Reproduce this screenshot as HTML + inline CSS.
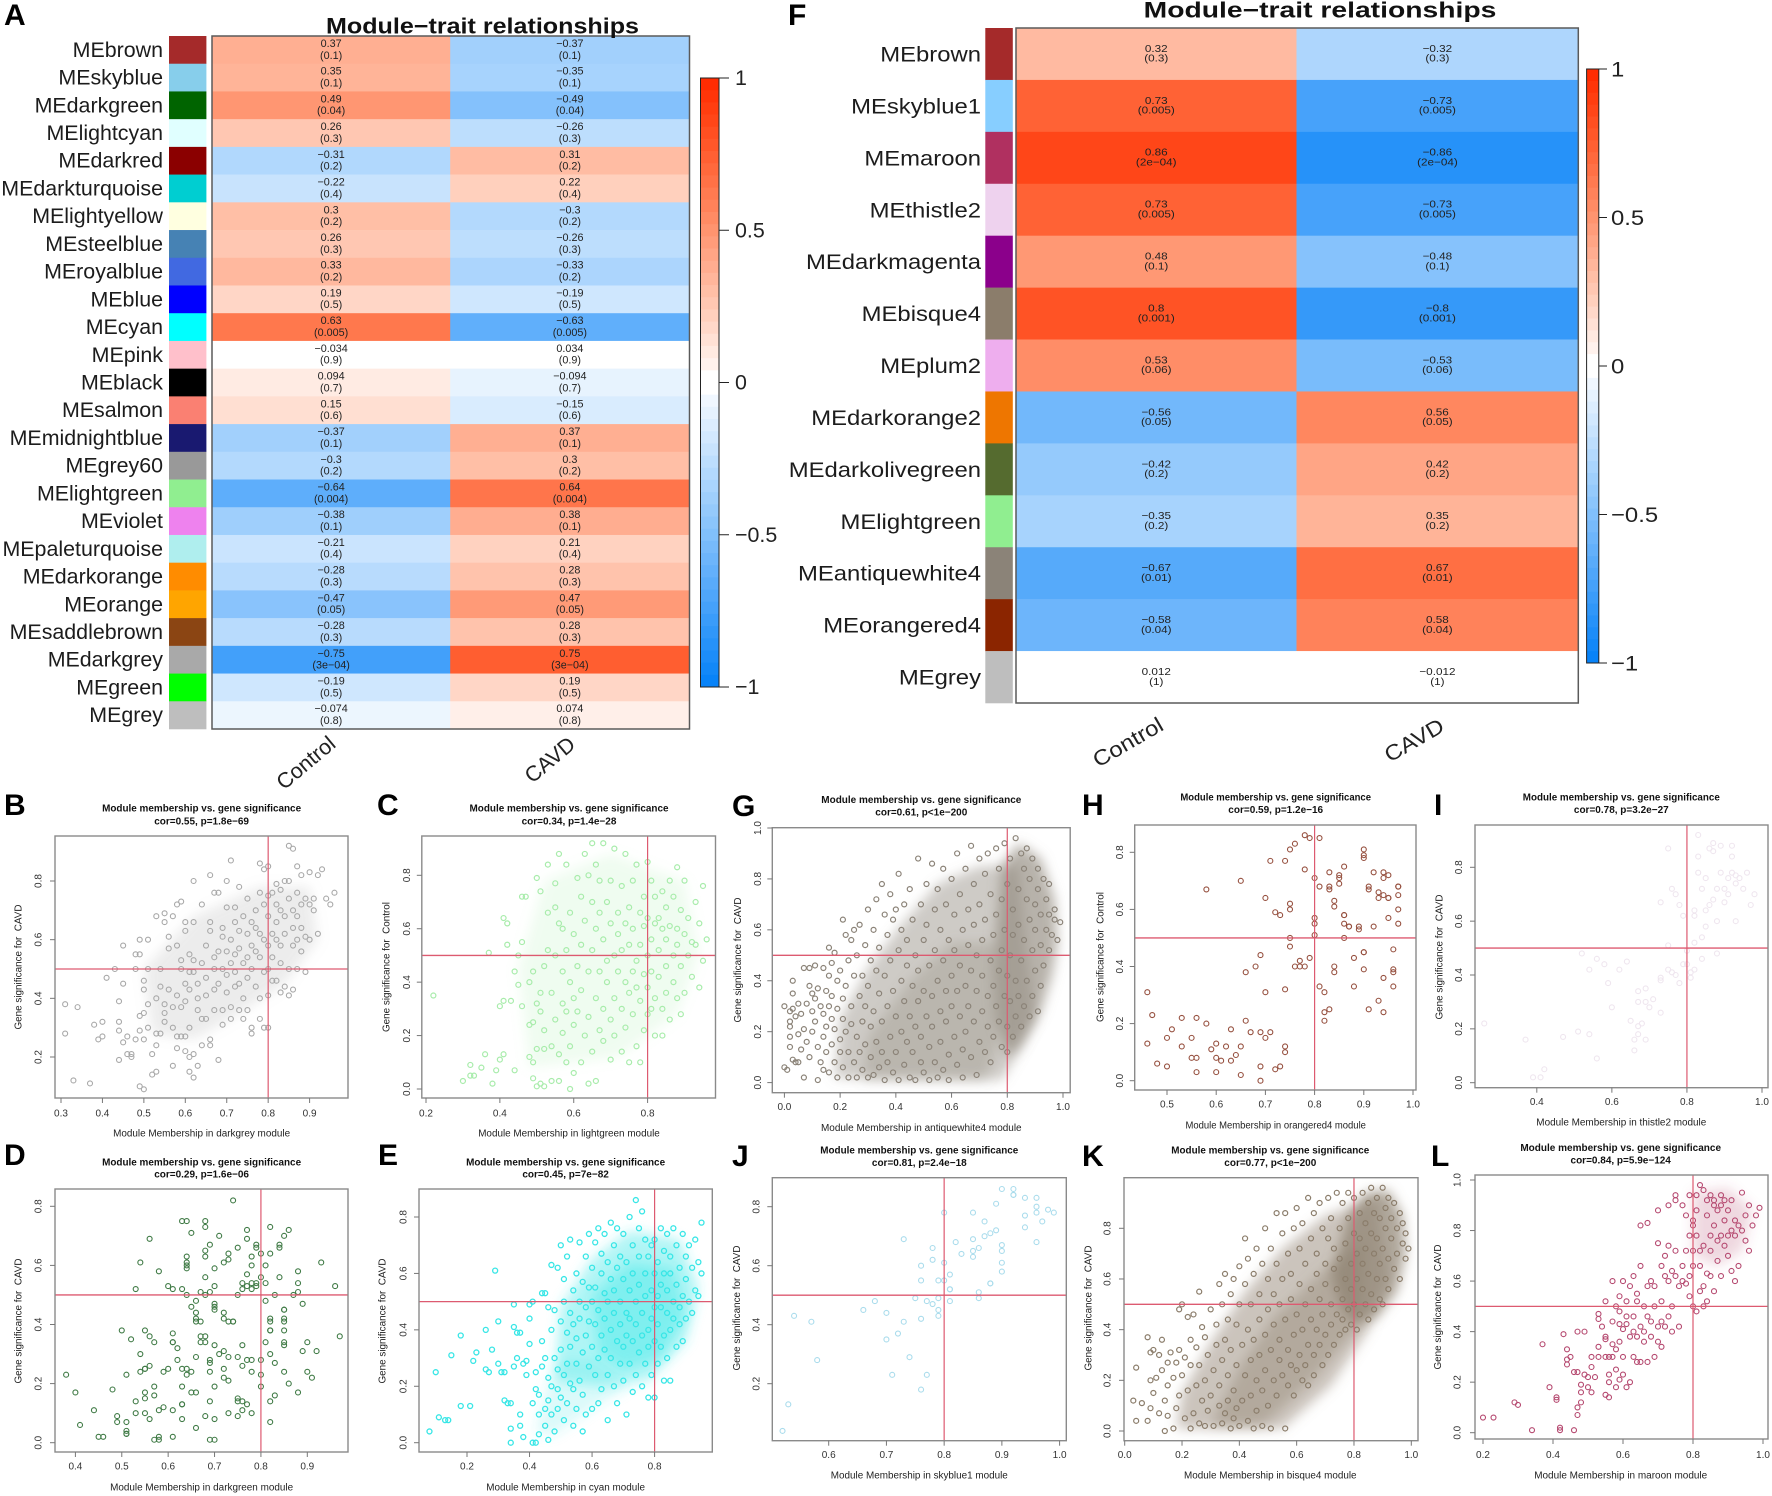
<!DOCTYPE html>
<html lang="en">
<head>
<meta charset="utf-8">
<title>Module-trait relationships and module membership scatter plots</title>
<style>
html,body{margin:0;padding:0;background:#fff;width:1772px;height:1496px;overflow:hidden}
svg{display:block}
text{font-family:"Liberation Sans",Arial,sans-serif;white-space:pre}
</style>
</head>
<body>
<svg id="figure" xmlns="http://www.w3.org/2000/svg" width="1772" height="1496" viewBox="0 0 1772 1496">
<defs><filter id="soft" x="-20%" y="-20%" width="140%" height="140%"><feGaussianBlur stdDeviation="6"/></filter></defs>
<rect x="0" y="0" width="1772" height="1496" fill="#ffffff"/>
</svg>
<script>
/* ---------- heatmap A data ---------- */
const modulesA=["MEbrown","MEskyblue","MEdarkgreen","MElightcyan","MEdarkred","MEdarkturquoise","MElightyellow","MEsteelblue","MEroyalblue","MEblue","MEcyan","MEpink","MEblack","MEsalmon","MEmidnightblue","MEgrey60","MElightgreen","MEviolet","MEpaleturquoise","MEdarkorange","MEorange","MEsaddlebrown","MEdarkgrey","MEgreen","MEgrey"];
const swatchesA=["#a52a2a","#87ceeb","#006400","#e0ffff","#8b0000","#00ced1","#ffffe0","#4682b4","#4169e1","#0000ff","#00ffff","#ffc0cb","#000000","#fa8072","#191970","#999999","#90ee90","#ee82ee","#afeeee","#ff8c00","#ffa500","#8b4513","#a9a9a9","#00ff00","#bebebe"];
const controlCorA=[0.37,0.35,0.49,0.26,-0.31,-0.22,0.3,0.26,0.33,0.19,0.63,-0.034,0.094,0.15,-0.37,-0.3,-0.64,-0.38,-0.21,-0.28,-0.47,-0.28,-0.75,-0.19,-0.074];
const cavdCorA=[-0.37,-0.35,-0.49,-0.26,0.31,0.22,-0.3,-0.26,-0.33,-0.19,-0.63,0.034,-0.094,-0.15,0.37,0.3,0.64,0.38,0.21,0.28,0.47,0.28,0.75,0.19,0.074];
const pValuesA=["0.1","0.1","0.04","0.3","0.2","0.4","0.2","0.3","0.2","0.5","0.005","0.9","0.7","0.6","0.1","0.2","0.004","0.1","0.4","0.3","0.05","0.3","3e−04","0.5","0.8"];
/* ---------- heatmap F data ---------- */
const modulesF=["MEbrown","MEskyblue1","MEmaroon","MEthistle2","MEdarkmagenta","MEbisque4","MEplum2","MEdarkorange2","MEdarkolivegreen","MElightgreen","MEantiquewhite4","MEorangered4","MEgrey"];
const swatchesF=["#a52a2a","#87ceff","#b03060","#eed2ee","#8b008b","#8b7d6b","#eeaeee","#ee7600","#556b2f","#90ee90","#8b8378","#8b2500","#bebebe"];
const controlCorF=[0.32,0.73,0.86,0.73,0.48,0.8,0.53,-0.56,-0.42,-0.35,-0.67,-0.58,0.012];
const cavdCorF=[-0.32,-0.73,-0.86,-0.73,-0.48,-0.8,-0.53,0.56,0.42,0.35,0.67,0.58,-0.012];
const pValuesF=["0.3","0.005","2e−04","0.005","0.1","0.001","0.06","0.05","0.2","0.2","0.01","0.04","1"];
const traitNames=["Control","CAVD"];
const colorbarTicks=[1,0.5,0,-0.5,-1];
/* ---------- scatter data: flat x,y pairs in hundredths ---------- */
const darkgreyPoints=[31,38,34,37,31,28,33,12,37,11,38,31,39,26,40,27,40,32,41,47,43,50,44,39,44,32,44,29,44,19,45,25,45,45,45,58,46,27,46,21,47,20,47,21,48,26,48,50,48,55,49,60,49,55,49,10,50,9,49,29,49,34,50,26,50,35,50,46,50,43,51,30,51,38,51,50,51,60,52,21,52,14,53,68,53,15,53,40,53,28,53,24,54,28,54,44,54,50,55,32,55,66,55,69,55,35,55,38,56,61,56,57,56,43,57,17,57,37,57,30,57,68,58,58,58,41,58,27,58,23,58,72,59,73,59,50,59,37,59,27,59,53,60,39,60,45,60,66,60,63,60,27,60,22,61,15,61,20,61,43,61,49,61,55,61,30,62,80,62,66,62,53,62,49,62,21,62,13,63,17,63,36,63,40,63,45,64,24,64,33,64,52,64,72,65,58,65,47,65,41,65,33,66,63,66,66,66,26,66,24,66,82,67,76,67,54,67,43,67,50,67,36,68,76,68,19,68,56,68,45,69,64,69,61,69,50,69,36,69,31,70,71,70,80,70,56,70,48,70,42,71,87,71,60,71,52,71,37,71,33,72,66,72,71,72,55,72,49,72,44,73,78,73,63,73,57,73,45,73,36,74,68,74,52,74,40,74,33,75,74,75,62,75,54,75,47,75,36,76,66,76,58,76,50,76,30,76,28,77,70,77,64,77,56,77,44,78,86,78,76,78,62,78,54,78,40,78,33,79,72,79,84,79,60,79,49,79,30,80,85,80,75,80,68,80,58,80,50,80,41,80,30,81,76,81,62,81,54,81,46,82,72,82,79,82,66,82,60,82,46,83,70,83,77,83,58,83,52,83,42,84,80,84,68,84,62,84,44,85,92,85,80,85,74,85,50,85,41,86,91,86,70,86,64,86,58,86,43,87,85,87,76,87,68,87,60,87,50,88,82,88,72,88,64,88,56,89,74,89,61,89,49,90,83,90,72,90,60,91,74,91,70,92,62,92,82,93,84,94,74,95,72,96,76];
const lightgreenPoints=[22,35,30,3,32,5,32,9,33,5,35,8,36,13,37,51,38,2,39,7,40,11,40,31,41,13,41,33,41,64,42,62,42,54,43,33,44,44,44,7,45,39,45,50,46,31,46,55,46,72,47,72,48,24,48,40,48,12,49,4,49,10,49,25,49,44,50,32,50,79,50,15,50,1,51,36,51,74,51,2,51,29,52,1,52,46,52,22,52,15,53,66,53,84,53,52,54,16,54,3,54,36,55,68,55,50,55,77,55,26,56,88,56,62,56,13,56,3,57,44,57,60,57,21,57,32,58,84,58,29,58,10,58,52,59,0,59,66,59,40,59,16,60,34,60,58,60,24,60,6,61,79,61,46,61,29,62,10,62,72,62,54,62,37,63,20,63,63,63,88,64,2,64,44,64,27,64,80,65,92,65,70,65,52,65,14,66,84,66,34,66,60,66,3,67,78,67,22,67,44,67,66,68,56,68,30,68,92,68,18,69,70,69,40,69,48,70,62,70,26,70,78,70,11,71,90,71,50,71,34,71,20,72,58,72,44,72,66,73,30,73,76,73,14,73,52,74,88,74,40,74,62,74,23,75,68,75,36,75,54,75,10,76,44,76,78,76,28,76,60,77,16,77,84,77,48,77,38,78,66,78,33,78,54,78,10,79,43,79,72,79,22,79,61,80,64,80,50,80,38,80,85,80,28,81,56,81,44,81,30,81,78,82,62,82,34,82,72,82,20,83,52,83,42,83,64,84,74,84,60,84,30,84,20,85,68,85,46,85,36,85,56,86,78,86,26,86,61,87,50,87,72,87,40,88,83,88,60,88,54,88,34,89,46,89,67,89,28,90,78,90,58,90,36,91,50,91,64,92,55,92,42,93,70,93,54,94,38,94,62,95,76,95,48,96,56];
const darkgreenPoints=[38,23,40,17,44,11,41,6,45,2,46,2,49,9,49,7,51,7,51,4,51,3,51,3,48,18,51,23,50,38,53,52,54,61,56,69,58,58,63,75,64,75,65,71,68,75,68,73,74,82,71,70,69,67,77,72,77,69,75,66,79,67,79,66,82,73,86,72,85,70,84,67,84,66,80,64,82,64,93,61,96,53,97,36,90,34,92,31,89,31,90,24,91,22,86,20,88,17,83,16,82,14,82,7,60,53,61,52,63,52,64,50,65,46,66,48,66,44,67,51,68,50,69,51,70,53,70,47,70,46,70,45,70,59,68,56,68,63,68,65,64,63,64,61,64,60,64,59,72,61,72,44,72,42,73,64,73,62,73,41,74,41,75,50,76,52,76,54,77,53,77,57,78,63,78,60,78,52,79,53,79,54,78,54,80,56,81,54,81,48,81,60,83,50,84,56,87,50,88,58,88,54,88,51,89,47,85,45,85,45,85,41,85,42,82,42,82,41,82,38,82,38,85,38,52,35,55,38,54,30,56,36,57,34,56,26,57,19,58,11,59,24,60,25,61,37,61,34,61,34,62,32,62,28,63,25,63,19,63,13,64,25,64,23,65,24,65,17,66,17,66,29,67,36,67,34,68,34,68,36,66,42,66,41,67,41,69,24,69,28,69,27,70,33,70,19,69,14,71,30,72,31,72,25,72,22,73,21,73,29,74,41,75,29,75,14,76,26,76,33,77,28,78,28,78,24,80,28,80,19,80,23,81,34,82,30,83,27,85,33,85,34,85,24,53,14,53,10,55,10,56,8,57,1,58,2,58,1,59,12,61,11,61,2,63,8,63,13,66,5,68,9,69,1,70,1,70,8,73,10,75,9,76,11,77,13,78,10,75,15,76,14,55,15,55,17,55,25,55,25,57,16,54,24];
const cyanPoints=[8,4,10,25,11,9,13,8,14,8,15,31,18,38,18,13,21,13,22,29,23,32,26,40,26,26,27,25,28,33,29,61,30,43,30,28,31,25,32,25,32,15,33,14,34,14,34,5,34,0,35,49,35,41,35,27,36,39,36,30,37,10,37,39,37,6,38,28,38,2,39,29,39,24,40,49,40,44,40,35,41,50,41,14,41,0,42,25,42,19,42,0,43,17,43,10,43,3,44,53,44,36,44,27,45,12,45,6,45,53,45,30,46,23,46,15,46,48,46,1,47,63,47,40,47,20,47,10,48,47,48,30,48,4,49,19,49,62,49,26,49,12,50,43,50,33,50,70,50,16,51,50,51,58,51,24,51,8,52,39,52,66,52,28,52,14,53,46,53,72,53,34,53,21,54,54,54,42,54,19,54,6,55,60,55,37,55,28,55,12,56,50,56,71,56,44,56,22,57,32,57,57,57,4,57,17,58,66,58,48,58,38,58,10,59,55,59,27,59,74,59,43,60,34,60,62,60,50,60,12,61,71,61,42,61,24,61,55,62,76,62,30,62,47,62,14,63,60,63,38,63,19,63,67,64,53,64,33,64,74,64,44,65,64,65,24,65,50,65,8,66,40,66,78,66,58,66,30,67,70,67,46,67,20,67,54,68,62,68,36,68,76,68,14,69,50,69,28,69,42,69,66,70,58,70,74,70,34,70,22,71,46,71,64,71,10,71,38,72,80,72,54,72,28,72,44,73,70,73,18,73,60,73,36,74,86,74,50,74,42,74,24,75,76,75,32,75,56,75,66,76,82,76,46,76,38,76,20,77,60,77,72,77,52,77,28,78,40,78,66,78,34,78,16,79,54,79,70,79,44,79,24,80,48,80,72,80,60,80,36,80,16,81,64,81,42,81,28,81,52,82,76,82,56,82,34,82,48,83,68,83,38,83,22,83,60,84,46,84,74,84,30,84,54,85,66,85,40,85,22,85,60,86,76,86,50,86,44,87,70,87,34,87,56,88,62,88,48,88,42,89,74,89,36,89,52,90,66,90,44,90,58,91,70,91,50,92,62,92,46,93,72,93,54,94,64,94,52,95,78,95,60];
const antiquewhitePoints=[0,30,0,6,1,5,2,28,2,24,2,22,2,18,2,14,3,40,3,35,3,29,3,9,4,26,4,8,5,31,5,19,5,8,6,27,6,13,7,45,7,21,7,2,8,31,8,16,9,45,9,38,9,10,10,35,10,28,10,20,11,46,11,33,11,24,12,1,12,37,12,14,13,30,13,8,14,45,14,27,14,18,14,5,15,36,15,22,15,12,16,53,16,30,16,42,16,4,17,15,17,25,17,47,17,34,18,8,18,51,18,21,19,40,19,29,19,2,20,17,20,44,20,12,21,64,21,25,21,33,21,6,22,58,22,38,22,20,23,2,23,48,23,12,24,56,24,30,24,23,25,8,25,42,25,60,26,18,26,2,26,50,27,34,27,12,27,62,28,5,28,24,28,42,29,54,29,15,29,30,30,2,30,68,30,38,31,10,31,48,31,22,32,60,32,3,32,28,33,72,33,44,33,16,34,6,34,35,34,53,35,78,35,24,35,12,36,66,36,1,36,42,37,30,37,8,37,58,38,74,38,48,38,18,39,4,39,36,39,64,40,26,40,12,40,68,41,82,41,52,41,1,42,40,42,20,42,60,43,32,43,7,43,70,44,46,44,16,44,56,45,2,45,26,45,76,46,38,46,12,46,64,47,50,47,22,47,1,48,88,48,32,48,44,49,8,49,70,49,18,50,56,50,36,50,4,51,62,51,26,51,78,52,14,52,46,52,1,53,86,53,34,53,22,54,68,54,52,54,8,55,40,55,2,55,76,56,28,56,60,56,16,57,84,57,48,57,5,58,36,58,70,58,24,59,11,59,56,59,1,60,80,60,42,60,30,61,66,61,18,61,52,62,90,62,7,62,36,63,74,63,46,63,26,64,13,64,60,64,2,65,84,65,38,65,20,66,68,66,54,66,30,67,93,67,10,67,44,68,78,68,24,68,62,69,3,69,50,69,36,70,88,70,70,70,16,71,56,71,28,71,42,72,82,72,12,72,64,73,34,73,22,73,90,74,48,74,74,74,8,75,58,75,38,75,18,76,92,76,66,76,30,77,44,77,24,77,84,78,14,78,52,78,72,79,34,79,94,79,60,80,22,80,42,80,78,80,12,81,88,81,50,81,32,82,68,82,58,82,18,83,96,83,40,83,26,84,76,84,62,84,34,85,90,85,48,85,22,86,84,86,56,86,30,87,72,87,92,87,40,88,64,88,80,88,26,89,88,89,52,89,34,90,70,90,60,90,44,91,84,91,28,91,76,92,66,92,54,92,38,93,80,93,46,94,72,94,60,95,66,95,52,95,78,96,58,97,68,97,64,98,56,99,63];
const orangeredPoints=[46,31,47,23,46,13,48,6,50,15,50,5,51,18,53,22,53,12,55,15,55,8,56,8,56,22,56,3,58,20,59,11,60,3,60,13,60,8,61,7,63,7,62,12,63,18,64,9,65,12,65,2,66,21,67,17,69,17,69,5,69,0,70,15,71,17,72,4,73,5,74,12,74,10,58,67,65,70,66,38,68,40,69,44,70,31,70,64,71,77,72,59,73,58,74,77,75,62,75,60,74,32,75,50,75,47,76,40,75,81,76,83,77,40,77,42,78,40,78,74,78,86,79,85,79,43,80,71,80,51,80,57,80,55,81,85,81,68,81,33,82,31,82,21,82,24,83,25,83,73,83,67,83,68,84,63,84,61,84,40,84,38,85,71,85,69,85,72,86,75,86,58,86,58,86,55,86,50,87,54,87,54,88,43,88,33,89,53,89,54,90,81,90,78,90,79,90,45,90,45,90,39,91,25,91,68,91,67,92,73,92,54,93,66,93,64,93,28,94,36,94,24,94,73,94,71,94,65,95,72,95,64,95,64,95,57,96,39,96,38,96,33,96,46,97,68,97,68,97,65,97,60,97,55];
const thistlePoints=[26,22,37,16,39,2,41,2,42,5,47,17,51,19,54,18,56,9,52,48,54,42,56,46,58,44,59,37,60,28,62,42,64,45,65,23,66,12,66,16,67,18,67,21,67,30,67,34,68,22,69,30,69,35,69,16,70,28,71,31,73,26,73,38,73,67,73,39,75,51,75,87,75,42,76,41,76,72,77,70,77,40,78,37,78,66,79,62,79,44,80,49,80,44,81,39,81,41,82,42,82,52,82,62,82,64,83,84,83,78,83,92,84,46,84,54,84,72,85,58,85,64,85,76,86,66,86,87,87,89,87,68,87,86,88,48,88,60,88,72,89,78,89,88,90,67,90,72,91,76,91,70,92,78,92,84,92,88,93,60,93,74,93,77,94,76,95,72,96,78,97,66,98,70];
const skybluePoints=[52,4,53,13,54,43,57,41,58,28,66,45,68,48,70,35,70,44,71,23,72,37,73,41,73,69,74,29,75,49,76,42,76,55,76,60,76,18,77,23,77,48,78,47,78,66,78,62,79,45,79,43,79,49,79,55,80,55,80,61,80,78,81,57,81,52,81,48,81,52,82,68,83,64,85,65,85,63,85,78,85,69,86,66,86,49,86,51,87,70,87,75,88,54,88,54,88,71,89,72,89,81,90,67,90,65,90,61,90,58,90,86,92,86,92,84,92,84,94,83,94,77,94,73,96,83,96,68,96,78,96,80,97,75,98,79,99,78];
const bisquePoints=[3,12,4,4,4,25,6,11,8,4,8,37,9,31,9,20,9,9,10,15,10,32,11,21,12,7,12,30,13,36,13,24,14,0,14,12,15,6,15,27,15,18,16,31,17,21,17,1,18,9,18,27,19,32,19,14,19,48,20,50,20,22,21,5,21,29,22,16,22,45,23,1,23,36,23,26,24,7,24,46,25,18,25,33,26,55,26,3,26,26,27,12,27,41,28,20,28,2,28,37,29,30,29,8,30,48,30,14,31,24,31,2,32,42,32,34,33,58,33,10,33,18,34,50,34,3,34,28,35,36,35,7,35,62,36,22,36,44,36,12,37,1,37,54,37,32,38,16,38,60,38,5,39,42,39,26,39,9,40,50,40,2,40,65,41,34,41,12,42,76,42,22,42,58,43,4,43,40,43,68,44,28,44,14,44,50,45,1,45,62,45,36,46,20,46,72,46,8,47,44,47,54,47,30,48,2,48,16,48,66,49,38,49,80,49,24,50,48,50,10,50,60,51,32,51,1,51,72,52,20,52,42,52,54,53,86,53,14,53,66,54,28,54,36,54,50,55,78,55,22,55,60,56,1,56,44,56,86,57,32,57,18,57,70,58,52,58,26,58,62,59,38,59,80,59,14,60,46,60,88,60,24,61,58,61,30,61,72,62,20,62,40,62,82,63,50,63,66,63,26,64,34,64,92,64,18,65,76,65,56,65,44,66,30,66,86,66,22,67,62,67,40,67,70,68,90,68,52,68,34,69,80,69,26,69,46,70,66,70,58,70,38,71,92,71,30,71,76,72,50,72,84,72,42,73,64,73,34,73,72,74,56,74,94,74,46,75,80,75,38,75,68,76,52,76,90,76,44,77,60,77,74,77,40,78,84,78,48,78,94,79,66,79,56,79,42,80,78,80,92,80,50,81,70,81,60,81,40,82,86,82,46,82,76,83,94,83,56,83,66,84,82,84,50,84,72,85,90,85,62,85,44,86,96,86,78,86,54,87,70,87,86,87,48,88,92,88,60,88,76,89,84,89,66,89,52,90,96,90,72,90,50,91,88,91,60,91,80,92,92,92,68,92,56,93,84,93,76,94,90,94,64,95,80,95,70,96,86,96,60,97,74,97,82,98,68,98,78,99,72];
const maroonPoints=[20,6,23,6,29,12,30,11,34,1,37,35,39,18,41,14,41,13,42,2,42,1,43,39,44,27,44,29,44,33,45,30,46,24,46,1,47,40,47,24,47,10,47,7,48,19,48,16,48,12,49,23,49,40,50,22,50,18,51,30,51,26,51,16,52,22,53,45,53,47,53,34,53,30,54,42,55,38,55,37,55,52,55,30,55,15,56,23,56,30,56,20,56,14,57,35,57,60,57,44,57,30,58,50,58,25,58,18,58,33,59,54,59,48,59,43,59,36,59,21,60,41,60,60,60,30,60,23,61,46,61,43,61,18,61,52,62,38,62,20,62,58,63,62,63,46,63,30,63,40,64,55,64,38,64,28,64,52,65,66,65,82,65,42,65,28,66,50,66,40,66,36,67,58,67,46,67,83,67,28,68,60,68,44,68,38,69,58,69,30,69,50,70,75,70,88,70,42,70,36,71,66,71,52,71,44,71,34,72,62,72,70,72,42,73,60,73,46,73,74,73,90,74,64,74,40,74,50,75,92,75,94,75,62,75,72,76,58,76,42,77,60,77,90,77,66,78,72,78,86,78,59,79,94,79,54,79,78,79,62,80,82,80,72,80,66,80,50,80,84,81,94,81,48,81,78,81,88,82,56,82,98,82,72,82,66,83,96,83,74,83,58,83,50,84,92,84,86,84,63,84,52,85,78,85,72,85,94,85,62,86,90,86,82,86,92,86,56,87,88,87,68,87,76,88,94,88,90,88,78,88,62,89,84,89,74,89,92,90,88,90,70,90,78,91,80,91,92,91,64,92,84,92,60,92,78,93,82,93,66,94,95,94,80,95,86,95,76,96,90,96,72,97,82,98,86,99,89];
/* dense overplotted regions: flat x,y outline pairs in hundredths */
const darkgreyCloudRegion=[52,28,50,50,62,68,78,78,90,78,92,60,84,45,72,34,62,26];
const lightgreenCloudRegion=[48,8,45,45,52,78,70,88,90,78,94,50,88,28,72,12];
const cyanCoreRegion=[48,22,50,48,60,65,72,75,88,72,94,55,90,36,78,22,62,20];
const cyanInnerRegion=[62,32,60,52,72,64,86,62,90,45,82,30,70,26];
const cyanLowerRegion=[42,3,48,3,60,12,72,20,62,30,50,30,45,18];
const antiquewhiteOuterRegion=[18,2,78,1,84,12,90,25,86,60,84,85,70,85,55,78,42,62,30,45,20,25];
const antiquewhiteInnerRegion=[28,1,72,1,78,20,76,55,60,55,45,40,30,18];
const antiquewhiteCoreRegion=[75,45,78,85,84,94,92,88,97,72,98,55,96,42,92,28,85,15,80,10,76,25];
const bisqueOuterRegion=[18,1,55,1,72,18,85,40,92,60,88,92,70,85,55,72,42,55,30,35,20,15];
const bisqueInnerRegion=[30,2,48,2,65,20,82,42,84,75,68,62,52,45,40,25];
const bisqueCoreRegion=[72,62,78,85,84,94,92,95,97,85,98,70,95,55,88,45,80,42,75,50];
const maroonCoreRegion=[80,70,80,95,90,97,97,88,94,72,87,66];
/* tick labels */
const ticksB={x:[.3,.4,.5,.6,.7,.8,.9],y:[.2,.4,.6,.8]};
const ticksC={x:[.2,.4,.6,.8],y:[0,.2,.4,.6,.8]};
const ticksD={x:[.4,.5,.6,.7,.8,.9],y:[0,.2,.4,.6,.8]};
const ticksE={x:[.2,.4,.6,.8],y:[0,.2,.4,.6,.8]};
const ticksG={x:[0,.2,.4,.6,.8,1],y:[0,.2,.4,.6,.8,1]};
const ticksH={x:[.5,.6,.7,.8,.9,1],y:[0,.2,.4,.6,.8]};
const ticksI={x:[.4,.6,.8,1],y:[0,.2,.4,.6,.8]};
const ticksJ={x:[.6,.7,.8,.9,1],y:[.2,.4,.6,.8]};
const ticksK={x:[0,.2,.4,.6,.8,1],y:[0,.2,.4,.6,.8]};
const ticksL={x:[.2,.4,.6,.8,1],y:[0,.2,.4,.6,.8,1]};

/* ---------- panel definitions ---------- */
const scatterPanels=[
{id:"b",mod:"darkgrey",trait:"CAVD",stat:"cor=0.55, p=1.8e−69",pts:darkgreyPoints,ticks:ticksB,color:"#a8a8a8",sw:1.1,box:[55,348,836,1098],xm:[.3,61,.9,309.6],ym:[.2,1057,.8,881],cx:201.6,t1:809,t2:822,tw:199,xl:1134,xw:177,xt:1114,ylx:18.6,ylc:967,yt:39,regions:[[darkgreyCloudRegion,.22]]},
{id:"c",mod:"lightgreen",trait:"Control",stat:"cor=0.34, p=1.4e−28",pts:lightgreenPoints,ticks:ticksC,color:"#a8ecab",sw:1.2,box:[421.8,715.5,836,1098],xm:[.2,426,.8,647.6],ym:[0,1089,.8,875.3],cx:569,t1:809,t2:822,tw:199,xl:1134,xw:181.6,xt:1114,ylx:386.4,ylc:967,yt:407.4,regions:[[lightgreenCloudRegion,.18]]},
{id:"d",mod:"darkgreen",trait:"CAVD",stat:"cor=0.29, p=1.6e−06",pts:darkgreenPoints,ticks:ticksD,color:"#3f7a45",sw:1.1,box:[55,348,1189,1452],xm:[.4,75.4,.9,307.3],ym:[0,1442.7,.8,1206.3],cx:201.6,t1:1163,t2:1175,tw:199,xl:1488,xw:183,xt:1467,ylx:18.6,ylc:1321,yt:39},
{id:"e",mod:"cyan",trait:"CAVD",stat:"cor=0.45, p=7e−82",pts:cyanPoints,ticks:ticksE,color:"#38e6e6",sw:1.3,box:[419,712.3,1189,1452],xm:[.2,467,.8,654.6],ym:[0,1442.7,.8,1217],cx:565.6,t1:1163,t2:1175,tw:199,xl:1488,xw:158.7,xt:1467,ylx:382.7,ylc:1321,yt:404,regions:[[cyanLowerRegion,.18],[cyanCoreRegion,.4],[cyanInnerRegion,.4]]},
{id:"g",mod:"antiquewhite4",trait:"CAVD",stat:"cor=0.61, p<1e−200",pts:antiquewhitePoints,ticks:ticksG,color:"#8b8378",sw:1.2,box:[772.3,1070.2,827.7,1092.7],xm:[0,784.4,1,1063],ym:[0,1082.6,1,828],cx:921.3,t1:800.7,t2:813,tw:200,xl:1128.7,xw:200.6,xt:1107.7,ylx:738,ylc:960,yt:758.3,regions:[[antiquewhiteOuterRegion,.42],[antiquewhiteInnerRegion,.3],[antiquewhiteCoreRegion,.62]]},
{id:"h",mod:"orangered4",trait:"Control",stat:"cor=0.59, p=1.2e−16",pts:orangeredPoints,ticks:ticksH,color:"#96503f",sw:1.1,box:[1134.7,1416,825,1090],xm:[.5,1167,1,1413],ym:[0,1080.7,.8,852.3],cx:1275.7,t1:798,t2:810.7,tw:190.6,xl:1126,xw:180.5,xt:1105,ylx:1100.5,ylc:957,yt:1120.7},
{id:"i",mod:"thistle2",trait:"CAVD",stat:"cor=0.78, p=3.2e−27",pts:thistlePoints,ticks:ticksI,color:"#efe6ef",sw:1.1,box:[1475,1768,825,1087.7],xm:[.4,1536.8,1,1762],ym:[0,1082.7,.8,867.3],cx:1621.3,t1:798,t2:810.7,tw:197,xl:1123,xw:170,xt:1102.7,ylx:1439.5,ylc:957,yt:1459.6},
{id:"j",mod:"skyblue1",trait:"CAVD",stat:"cor=0.81, p=2.4e−18",pts:skybluePoints,ticks:ticksJ,color:"#aadcec",sw:1.1,box:[772.3,1066.3,1177.7,1440.7],xm:[.6,828.7,1,1059.6],ym:[.2,1383.7,.8,1206.7],cx:919.3,t1:1151,t2:1163.3,tw:198,xl:1476,xw:177,xt:1455.3,ylx:736.8,ylc:1308,yt:757},
{id:"k",mod:"bisque4",trait:"CAVD",stat:"cor=0.77, p<1e−200",pts:bisquePoints,ticks:ticksK,color:"#8b7d6b",sw:1.2,box:[1124,1418,1177.7,1440.7],xm:[0,1124.7,1,1411.3],ym:[0,1431,.8,1228.3],cx:1270.3,t1:1151,t2:1163.3,tw:198,xl:1476,xw:172.5,xt:1455.3,ylx:1088.5,ylc:1308,yt:1108,regions:[[bisqueOuterRegion,.45],[bisqueInnerRegion,.38],[bisqueCoreRegion,.68]]},
{id:"l",mod:"maroon",trait:"CAVD",stat:"cor=0.84, p=5.9e−124",pts:maroonPoints,ticks:ticksL,color:"#b5486f",sw:1.1,box:[1475,1768,1175,1439],xm:[.2,1483,.8,1693],ym:[0,1432.7,1,1180],cx:1620.7,t1:1148.3,t2:1161,tw:200.7,xl:1476,xw:173,xt:1455.3,ylx:1438,ylc:1307,yt:1458,regions:[[maroonCoreRegion,.22]]}
];
const panelLetters=[["A",4,25],["F",788,25],["B",4,815],["C",377,815],["D",4,1165],["E",378,1165],["G",732,816],["H",1082,815],["I",1434,815],["J",732,1166],["K",1082,1166],["L",1431,1166]];

/* ---------- helpers ---------- */
const NS="http://www.w3.org/2000/svg";
const fig=document.getElementById("figure");
function draw(tag,attrs,name,parent){
  const el=document.createElementNS(NS,tag);
  for(const k in attrs){el.setAttribute(k,attrs[k]);}
  
  
  (parent||fig).appendChild(el);
  return el;
}
function label(str,attrs,name,parent){
  const el=draw("text",Object.assign({"dominant-baseline":"central",fill:"#222"},attrs),name,parent);
  el.textContent=str;
  return el;
}
function linear(v1,p1,v2,p2){const k=(p2-p1)/(v2-v1);return v=>p1+(v-v1)*k;}
function corColor(v){
  const a=Math.min(1,Math.abs(v));
  if(a<0.04){return "rgb(255,255,255)";}
  if(v>=0){
    return "rgb(255,"+Math.round(255-a*215)+","+Math.round(255*Math.pow(1-a,1.2))+")";
  }
  return "rgb("+Math.round(255-a*252)+","+Math.round(255-a*127)+","+Math.round(255-a*7)+")";
}
function fmtCor(v){return String(v).replace("-","−");}

/* ---------- heatmaps ---------- */
function heatmap(o){
  const g=draw("g",{},"heatmap-"+o.id);
  const n=o.modules.length;
  const rowY=linear(0,o.top,n,o.bottom);
  const colX=[o.left,o.split,o.right];
  o.modules.forEach((m,i)=>{
    const y=rowY(i),h=rowY(i+1)-y,cy=y+h/2;
    draw("rect",{x:o.swL,y:y,width:o.swR-o.swL,height:h+.3,fill:o.swatches[i]},"module-swatch-"+m,g);
    const tf="translate("+o.labelX+","+cy+") scale("+o.sx+",1)";
    label(m,{x:0,y:0,transform:tf,"text-anchor":"end","font-size":21.4,fill:"#1c1c1c"},"module-label-"+m,g);
    [o.control,o.cavd].forEach((series,c)=>{
      draw("rect",{x:colX[c],y:y,width:colX[c+1]-colX[c]+.3,height:h+.3,fill:corColor(series[i])},"cell-"+m+"-"+traitNames[c],g);
      const cx=(colX[c]+colX[c+1])/2;
      label(fmtCor(series[i]),{"text-anchor":"middle",transform:"translate("+cx+","+(cy-o.gap)+") scale("+o.sx+",1)","font-size":o.cell},"cell-correlation-"+m+"-"+traitNames[c],g);
      label("("+o.p[i]+")",{"text-anchor":"middle",transform:"translate("+cx+","+(cy+o.gap)+") scale("+o.sx+",1)","font-size":o.cell},"cell-pvalue-"+m+"-"+traitNames[c],g);
    });
  });
  draw("rect",{x:o.left,y:o.top,width:o.right-o.left,height:o.bottom-o.top,fill:"none",stroke:"#5a5a5a","stroke-width":1.5},"heatmap-frame-"+o.id,g);
  label("Module−trait relationships",{x:o.titleX,y:o.titleY,"text-anchor":"middle","font-size":22,"font-weight":"bold",fill:"#111",textLength:o.titleW,lengthAdjust:"spacingAndGlyphs"},"heatmap-title-"+o.id,g);
  traitNames.forEach((t,i)=>{
    label(t,{"text-anchor":"middle",transform:"translate("+o.traitX[i]+","+o.traitY[i]+") rotate("+o.rot+") scale("+o.sx+",1)","font-size":21.5,fill:"#222"},"trait-label-"+t,g);
  });
  /* colour bar */
  const val=linear(1,o.cbTop,-1,o.cbBottom);
  for(let s=0;s<50;s++){
    const v1=1-s/25,v2=1-(s+1)/25;
    draw("rect",{x:o.cbL,y:val(v1),width:o.cbR-o.cbL,height:val(v2)-val(v1)+.4,fill:corColor((v1+v2)/2)},"colorbar-step",g);
  }
  draw("rect",{x:o.cbL,y:o.cbTop,width:o.cbR-o.cbL,height:o.cbBottom-o.cbTop,fill:"none",stroke:"#222","stroke-width":1},"colorbar-frame-"+o.id,g);
  colorbarTicks.forEach(v=>{
    const y=val(v);
    draw("line",{x1:o.cbR,x2:o.cbT,y1:y,y2:y,stroke:"#222","stroke-width":1},"colorbar-tick",g);
    label(fmtCor(v),{transform:"translate("+o.cbLab+","+y+") scale("+o.sx+",1)","font-size":21.4},"colorbar-tick-label",g);
  });
}
heatmap({id:"a",modules:modulesA,swatches:swatchesA,control:controlCorA,cavd:cavdCorA,p:pValuesA,top:36,bottom:729,left:212,split:450.2,right:689.5,swL:169,swR:206.4,labelX:163,sx:1,cell:10.8,gap:5.9,titleX:482.5,titleY:26,titleW:313,traitX:[306,550],traitY:[763,760],rot:-40,cbL:700.5,cbR:719,cbT:729,cbLab:735,cbTop:78,cbBottom:687});
heatmap({id:"f",modules:modulesF,swatches:swatchesF,control:controlCorF,cavd:cavdCorF,p:pValuesF,top:28,bottom:703,left:1016,split:1296.5,right:1578.3,swL:985.3,swR:1012.8,labelX:981,sx:1.115,cell:10.5,gap:4.9,titleX:1320,titleY:10,titleW:352.7,traitX:[1127.8,1414],traitY:[742,740],rot:-30,cbL:1586.6,cbR:1598.8,cbT:1607,cbLab:1611,cbTop:69,cbBottom:663});

/* ---------- scatter panels ---------- */
scatterPanels.forEach(p=>{
  const g=draw("g",{},"scatter-panel-"+p.id);
  const X=linear.apply(null,p.xm), Y=linear.apply(null,p.ym);
  const [l,r,t,b]=p.box;
  const clip=draw("clipPath",{id:"clip-"+p.id},"plot-clip-"+p.id,g);
  draw("rect",{x:l,y:t,width:r-l,height:b-t},"plot-clip-area-"+p.id,clip);
  const dense=draw("g",{"clip-path":"url(#clip-"+p.id+")"},"dense-layer-"+p.id,g);
  (p.regions||[]).forEach(reg=>{
    let d="";
    for(let i=0;i<reg[0].length;i+=2){d+=(i?"L":"M")+X(reg[0][i]/100)+" "+Y(reg[0][i+1]/100);}
    draw("path",{d:d+"Z",fill:p.color,"fill-opacity":reg[1],filter:"url(#soft)"},"dense-point-region-"+p.id,dense);
  });
  for(let i=0;i<p.pts.length;i+=2){
    draw("circle",{cx:X(p.pts[i]/100),cy:Y(p.pts[i+1]/100),r:2.5,fill:"none",stroke:p.color,"stroke-width":p.sw},"point-"+p.id,g);
  }
  draw("line",{x1:l,x2:r,y1:Y(.5),y2:Y(.5),stroke:"#dd5a70","stroke-width":1.3},"threshold-gs-"+p.id,g);
  draw("line",{x1:X(.8),x2:X(.8),y1:t,y2:b,stroke:"#dd5a70","stroke-width":1.2},"threshold-mm-"+p.id,g);
  draw("rect",{x:l,y:t,width:r-l,height:b-t,fill:"none",stroke:"#8a8a8a","stroke-width":1.4},"plot-frame-"+p.id,g);
  p.ticks.x.forEach(v=>{
    draw("line",{x1:X(v),x2:X(v),y1:b,y2:b+5,stroke:"#777","stroke-width":1},"x-tick-"+p.id,g);
    label(v.toFixed(1),{x:X(v),y:p.xt,"text-anchor":"middle","font-size":10,fill:"#333"},"x-tick-label-"+p.id,g);
  });
  p.ticks.y.forEach(v=>{
    draw("line",{x1:l-5,x2:l,y1:Y(v),y2:Y(v),stroke:"#777","stroke-width":1},"y-tick-"+p.id,g);
    label(v.toFixed(1),{transform:"translate("+p.yt+","+Y(v)+") rotate(-90)","text-anchor":"middle","font-size":10,fill:"#333"},"y-tick-label-"+p.id,g);
  });
  label("Module membership vs. gene significance",{x:p.cx,y:p.t1,"text-anchor":"middle","font-size":10,"font-weight":"bold",fill:"#111",textLength:p.tw,lengthAdjust:"spacingAndGlyphs"},"scatter-title-"+p.id,g);
  label(p.stat,{x:p.cx,y:p.t2,"text-anchor":"middle","font-size":10,"font-weight":"bold",fill:"#111"},"scatter-statistics-"+p.id,g);
  label("Module Membership in "+p.mod+" module",{x:p.cx,y:p.xl,"text-anchor":"middle","font-size":10,fill:"#222",textLength:p.xw,lengthAdjust:"spacingAndGlyphs"},"x-axis-title-"+p.id,g);
  label("Gene significance for  "+p.trait,{transform:"translate("+p.ylx+","+p.ylc+") rotate(-90)","text-anchor":"middle","font-size":10.5,fill:"#222",textLength:p.trait==="Control"?130:125,lengthAdjust:"spacingAndGlyphs"},"y-axis-title-"+p.id,g);
});

/* ---------- panel letters ---------- */
panelLetters.forEach(a=>{
  const el=label(a[0],{x:a[1],y:a[2],"font-size":30,"font-weight":"bold",fill:"#000","dominant-baseline":"auto"},"panel-letter-"+a[0].toLowerCase());
});
</script>
</body>
</html>
